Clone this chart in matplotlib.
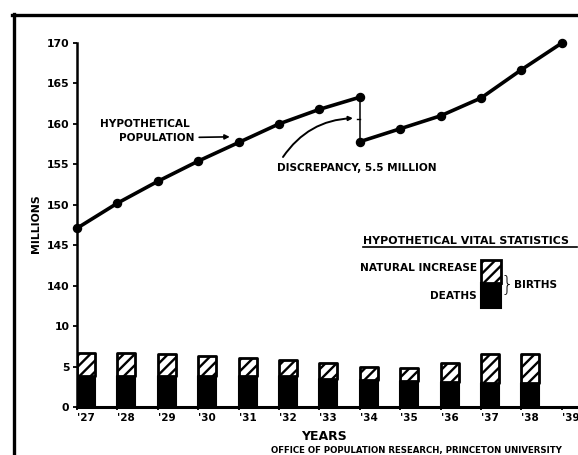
import matplotlib
matplotlib.use('Agg')

import numpy as np
import matplotlib.pyplot as plt
from matplotlib.patches import Rectangle
from matplotlib.lines import Line2D

# ---------- DATA ----------
tick_years = list(range(1927, 1940))
tick_labels = ["'27", "'28", "'29", "'30", "'31", "'32", "'33",
               "'34", "'35", "'36", "'37", "'38", "'39"]

# population in millions, before and after the 1934 break
pop_years_a = [1927, 1928, 1929, 1930, 1931, 1932, 1933, 1934]
pop_a = [147.1, 150.2, 152.9, 155.4, 157.7, 160.0, 161.8, 163.3]
pop_years_b = [1934, 1935, 1936, 1937, 1938, 1939]
pop_b = [157.8, 159.4, 161.0, 163.2, 166.7, 170.0]

# vital statistics in millions
bar_years = [1927, 1928, 1929, 1930, 1931, 1932,
             1933, 1934, 1935, 1936, 1937, 1938]
births = [6.7, 6.7, 6.6, 6.3, 6.1, 5.8, 5.4, 4.9, 4.8, 5.4, 6.6, 6.6]
deaths = [3.8, 3.8, 3.8, 3.8, 3.8, 3.8, 3.4, 3.3, 3.2, 3.1, 3.0, 3.0]

y_ticks = [0, 5, 10, 140, 145, 150, 155, 160, 165, 170]
y_tick_labels = ["0", "5", "10", "140", "145", "150", "155", "160", "165", "170"]


# broken y axis: 10..140 squeezed into one tick step
def fwd(v):
    v = np.asarray(v, dtype=float)
    return np.where(v <= 10, v, np.where(v >= 140, v - 125, 10 + (v - 10) * 5 / 130))


def inv(s):
    s = np.asarray(s, dtype=float)
    return np.where(s <= 10, s, np.where(s >= 15, s + 125, 10 + (s - 10) * 130 / 5))


W, H = 578, 455


def P(x, y):
    # pixel position (from top-left) -> figure fraction
    return (x / W, 1 - y / H)


plt.rcParams['font.family'] = 'DejaVu Sans'
plt.rcParams['font.weight'] = 'bold'
plt.rcParams['hatch.linewidth'] = 1.7

fig = plt.figure(figsize=(W / 100, H / 100), dpi=100)
ax = fig.add_axes([77 / W, 1 - 407 / H, 499 / W, 364 / H])
ax.set_yscale('function', functions=(fwd, inv))

# ---------- BARS ----------
nat_inc = [b - d for b, d in zip(births, deaths)]
bw = 0.445
ax.bar(bar_years, deaths, width=bw, align='edge', color='black',
       edgecolor='black', linewidth=1.5, joinstyle='round')
ax.bar(bar_years, nat_inc, bottom=deaths, width=bw, align='edge', color='white',
       edgecolor='black', linewidth=2.0, hatch='///', joinstyle='round')

# ---------- POPULATION LINE ----------
ax.plot(pop_years_a, pop_a, color='black', lw=2.6, marker='o', ms=5.8,
        solid_capstyle='round', solid_joinstyle='round', clip_on=False, zorder=5)
ax.plot(pop_years_b, pop_b, color='black', lw=2.6, marker='o', ms=5.8,
        solid_capstyle='round', solid_joinstyle='round', clip_on=False, zorder=5)
ax.plot([1934, 1934], [pop_a[-1], pop_b[0]], color='black', lw=1.1, zorder=4)
mid = (pop_a[-1] + pop_b[0]) / 2
ax.plot([1933.94, 1934], [mid, mid], color='black', lw=1.0, zorder=4)

# ---------- AXES ----------
ax.set_xlim(1927, 1939.35)
ax.set_ylim(0, 170)
ax.set_yticks(y_ticks)
ax.set_yticklabels(y_tick_labels)
ax.set_xticks(tick_years)
ax.set_xticklabels(tick_labels, ha='left')
for s in ['top', 'right']:
    ax.spines[s].set_visible(False)
ax.spines['left'].set_linewidth(1.8)
ax.spines['bottom'].set_linewidth(2.2)
ax.tick_params(axis='y', length=3, width=1.3, pad=2.5, labelsize=7.8)
ax.tick_params(axis='x', length=2, width=1.3, pad=2, labelsize=7.5)

fig.text(*P(36, 224), "MILLIONS", rotation=90, ha='center', va='center', fontsize=7.8)
fig.text(*P(324, 436), "YEARS", ha='center', va='center', fontsize=9)
fig.text(*P(562, 450), "OFFICE OF POPULATION RESEARCH, PRINCETON UNIVERSITY",
         ha='right', va='center', fontsize=6.2)

# ---------- ANNOTATIONS ----------
fs = 7.6
fig.text(*P(190, 124), "HYPOTHETICAL", ha='right', va='center', fontsize=fs)
ax.annotate("POPULATION", xy=(1930.78, 158.4), xycoords='data',
            xytext=P(195, 138), textcoords='figure fraction',
            ha='right', va='center', fontsize=fs,
            arrowprops=dict(arrowstyle='-|>', color='black', lw=1.2,
                            mutation_scale=7, shrinkA=1, shrinkB=0))
fig.text(*P(277, 168), "DISCREPANCY, 5.5 MILLION", ha='left', va='center', fontsize=fs)
ax.annotate("", xy=(1933.83, 160.7), xycoords='data',
            xytext=P(283, 157), textcoords='figure fraction',
            arrowprops=dict(arrowstyle='-|>', color='black', lw=1.4,
                            mutation_scale=6, shrinkA=0, shrinkB=0,
                            connectionstyle='arc3,rad=-0.25'))

# ---------- LEGEND ----------
fig.text(*P(363, 241), "HYPOTHETICAL VITAL STATISTICS", ha='left', va='center', fontsize=7.9)
fig.add_artist(Line2D([363 / W, 577 / W], [1 - 247 / H] * 2, color='black', lw=1.2))
fig.text(*P(477, 268), "NATURAL INCREASE", ha='right', va='center', fontsize=fs)
fig.text(*P(477, 296), "DEATHS", ha='right', va='center', fontsize=fs)
lx, lw_ = 481 / W, 20 / W
fig.add_artist(Rectangle((lx, 1 - 308 / H), lw_, 25 / H, transform=fig.transFigure,
                         facecolor='black', edgecolor='black', lw=1.5))
fig.add_artist(Rectangle((lx, 1 - 283 / H), lw_, 23 / H, transform=fig.transFigure,
                         facecolor='white', edgecolor='black', lw=2.0, hatch='///'))
fig.text(*P(507, 284), "}", ha='center', va='center', fontsize=15, fontweight='light')
fig.text(*P(514, 285), "BIRTHS", ha='left', va='center', fontsize=fs)

# ---------- FRAME ----------
fig.add_artist(Line2D([12 / W, 1], [1 - 15 / H] * 2, color='black', lw=2.4))
fig.add_artist(Line2D([14 / W] * 2, [1 - 14 / H, 0], color='black', lw=2.4))

fig.savefig("out.png", dpi=100)
